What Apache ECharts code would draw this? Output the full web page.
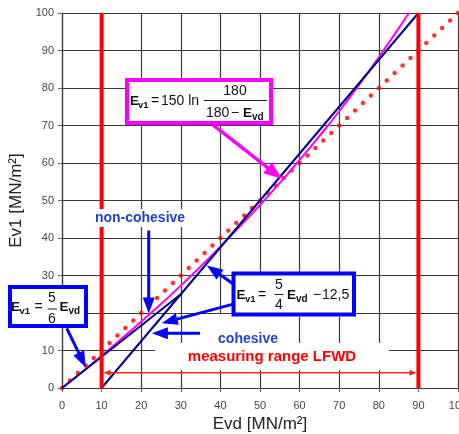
<!DOCTYPE html>
<html><head><meta charset="utf-8">
<script src="https://cdn.jsdelivr.net/npm/echarts@6/dist/echarts.min.js"></script>
<style>html,body{margin:0;padding:0;background:#fff}#c{width:459px;height:434px}</style>
</head><body><div id="c"></div>
<script>
// ---- data ----
const axisTicks = [0,10,20,30,40,50,60,70,80,90,100];
// red dotted reference line (Ev1 = Evd), dots every 2 units
const dotEvd = [0,2,4,6,8,10,12,14,16,18,20,22,24,26,28,30,32,34,36,38,40,42,44,46,48,50,52,54,56,58,60,62,64,66,68,70,72,74,76,78,80,82,84,86,88,90,92,94,96,98,100];
const dotEv1 = [0,2,4,6,8,10,12,14,16,18,20,22,24,26,28,30,32,34,36,38,40,42,44,46,48,50,52,54,56,58,60,62,64,66,68,70,72,74,76,78,80,82,84,86,88,90,92,94,96,98,100];
// magenta curve (Ev1 = 150 ln(180/(180-Evd)))
const curveEvd = [0,5,10,15,20,25,30,35,40,45,50,55,60,65,70,75,80,85,87.6];
const curveEv1 = [0,4.2,8.6,13.1,17.7,22.4,27.3,32.4,37.7,43.2,48.8,54.7,60.8,67.2,73.8,80.8,88.2,95.9,100];
// navy lines
const nonCohEvd = [0,30];
const nonCohEv1 = [0,25];
const cohEvd = [10,90];
const cohEv1 = [0,100];
// red measuring range limits
const limitEvd = [10,90];
const limitEv1 = [0,100];
// arrows [fromEvd, fromEv1, toEvd, toEv1]
const blueArrows = [[21.9,42.0,21.9,19.9],[1.2,15.9,6.0,5.5],[43.7,27.4,36.6,32.7],[43.0,22.3,25.2,17.3],[35.4,14.6,22.7,14.6]];
const magentaArrows = [[38.2,70.1,55.5,55.8]];
const rangeArrows = [[10.5,4.1,89.5,4.1]];

const FF = 'Arial, "Liberation Sans", sans-serif';
const zip = (a,b)=>a.map((v,i)=>[v,b[i]]);

function arrowRender(color, lw, hl, hw, both){
  return function(params, api){
    const a = api.coord([api.value(0), api.value(1)]);
    const b = api.coord([api.value(2), api.value(3)]);
    const dx=b[0]-a[0], dy=b[1]-a[1], L=Math.hypot(dx,dy), ux=dx/L, uy=dy/L, px=-uy, py=ux;
    const head=(tip,d)=>{const bx=tip[0]-d[0]*hl, by=tip[1]-d[1]*hl;
      return {type:'polygon', shape:{points:[[tip[0],tip[1]],[bx+px*hw/2,by+py*hw/2],[bx-px*hw/2,by-py*hw/2]]}, style:{fill:color}};};
    const s = both ? [a[0]+ux*hl*0.8, a[1]+uy*hl*0.8] : a;
    const e = [b[0]-ux*hl*0.8, b[1]-uy*hl*0.8];
    const ch=[{type:'line', shape:{x1:s[0],y1:s[1],x2:e[0],y2:e[1]}, style:{stroke:color, lineWidth:lw}}, head(b,[ux,uy])];
    if(both) ch.push(head(a,[-ux,-uy]));
    return {type:'group', children:ch};
  };
}
function arrowSeries(data, color, lw, hl, hw, both){
  return {type:'custom', data, dimensions:['x1','y1','x2','y2'], encode:{x:[0,2], y:[1,3]},
    renderItem: arrowRender(color, lw, hl, hw, both), z:6, clip:false, silent:true};
}
function T(x,y,text,size,bold,align,color){
  return {type:'text', x, y, z:101, style:{text, font:(bold?'bold ':'')+size+'px '+FF, fill:color||'#111',
    align:align||'left', verticalAlign:'middle', textAlign:align||'left', textVerticalAlign:'middle'}};
}
function box(x,y,w,h,color){
  return {type:'rect', z:100, shape:{x,y,width:w,height:h}, style:{fill:'#fff', stroke:color, lineWidth:4}};
}
function bar(x1,x2,y){
  return {type:'line', z:101, shape:{x1,y1:y,x2,y2:y}, style:{stroke:'#222', lineWidth:1}};
}

const chart = echarts.init(document.getElementById('c'), null, {renderer:'canvas'});
const gridColor = '#3a3a3a';
const axisCommon = {
  type:'value', min:0, max:100, interval:10,
  axisLine:{show:true, lineStyle:{color:gridColor, width:1.2}},
  axisTick:{show:true, length:4, lineStyle:{color:'#666'}},
  splitLine:{show:true, lineStyle:{color:gridColor, width:1.2}},
  nameTextStyle:{fontSize:17, color:'#222', fontFamily:FF}
};
chart.setOption({
  animation:false,
  textStyle:{fontFamily:FF},
  grid:{left:62, right:1, top:13, bottom:46, containLabel:false, outerBoundsMode:'none'},
  xAxis:Object.assign({}, axisCommon, {name:'Evd [MN/m²]', nameLocation:'middle', nameGap:26,
    axisLabel:{fontSize:11, color:'#444', margin:12, fontFamily:FF}}),
  yAxis:Object.assign({}, axisCommon, {name:'Ev1 [MN/m²]', nameLocation:'middle', nameGap:31,
    axisLabel:{fontSize:11, color:'#444', margin:8, fontFamily:FF}}),
  series:[
    {type:'scatter', data:zip(dotEvd,dotEv1), symbol:'circle', symbolSize:4.5, itemStyle:{color:'#ff0000'}, z:2, silent:true},
    {type:'line', data:zip(curveEvd,curveEv1), smooth:true, showSymbol:false, lineStyle:{color:'#ff00ff', width:2}, z:3, silent:true},
    {type:'line', data:zip(nonCohEvd,nonCohEv1), showSymbol:false, lineStyle:{color:'#000080', width:2}, z:4, silent:true},
    {type:'line', data:zip(cohEvd,cohEv1), showSymbol:false, lineStyle:{color:'#000080', width:2}, z:4, silent:true},
    {type:'line', data:[[limitEvd[0],limitEv1[0]],[limitEvd[0],limitEv1[1]]], showSymbol:false, lineStyle:{color:'#ff0000', width:4}, z:5, silent:true},
    {type:'line', data:[[limitEvd[1],limitEv1[0]],[limitEvd[1],limitEv1[1]]], showSymbol:false, lineStyle:{color:'#ff0000', width:4}, z:5, silent:true},
    arrowSeries(blueArrows, '#0000ff', 3, 16, 12, false),
    arrowSeries(magentaArrows, '#ff00ff', 3.5, 18, 14, false),
    arrowSeries(rangeArrows, '#ff2020', 1.5, 7, 6, true)
  ],
  graphic:[
    // labels with white background
    {type:'rect', z:99, shape:{x:155,y:343,width:234,height:27}, style:{fill:'#fff'}},
    T(272,357,'measuring range LFWD',15,true,'center','#ff0000'),
    {type:'rect', z:99, shape:{x:200,y:314,width:92,height:29}, style:{fill:'#fff'}},
    T(248,339,'cohesive',14,true,'center','#1f45c8'),
    {type:'rect', z:99, shape:{x:92,y:209,width:96,height:18}, style:{fill:'#fff'}},
    T(140,218,'non-cohesive',14,true,'center','#1f45c8'),
    // magenta formula box
    box(127,80,144,43,'#ff00ff'),
    T(130,101,'E',13.5,true), T(138,105,'v1',9.5,true),
    T(151,101,'=',14,false), T(161,101,'150 ln',14,false),
    bar(204,267,100.5),
    T(235,91,'180',14,false,'center'),
    T(206,113,'180',14,false), T(231,113,'−',14,false),
    T(243,113,'E',13.5,true), T(252,117,'vd',10,true),
    // 5/6 box
    box(10,287,76,39,'#0000ff'),
    T(11,307,'E',13.5,true), T(19.5,311,'v1',9.5,true),
    T(34.5,307,'=',14,false),
    T(52,298.5,'5',14,false,'center'), bar(47.5,57,309), T(52,319,'6',14,false,'center'),
    T(59.5,307,'E',13.5,true), T(68.5,311,'vd',10,true),
    // 5/4 box
    box(233.5,273.5,120.5,41,'#0000ff'),
    T(236.5,295,'E',13.5,true), T(245,299,'v1',9.5,true),
    T(258,295,'=',14,false),
    T(279,285,'5',14,false,'center'), bar(274.5,283.5,294.5), T(279,305,'4',14,false,'center'),
    T(287,295,'E',13.5,true), T(296,299,'vd',10,true),
    T(313,295,'−',14,false), T(322,295,'12,5',14,false)
  ]
});
</script></body></html>
